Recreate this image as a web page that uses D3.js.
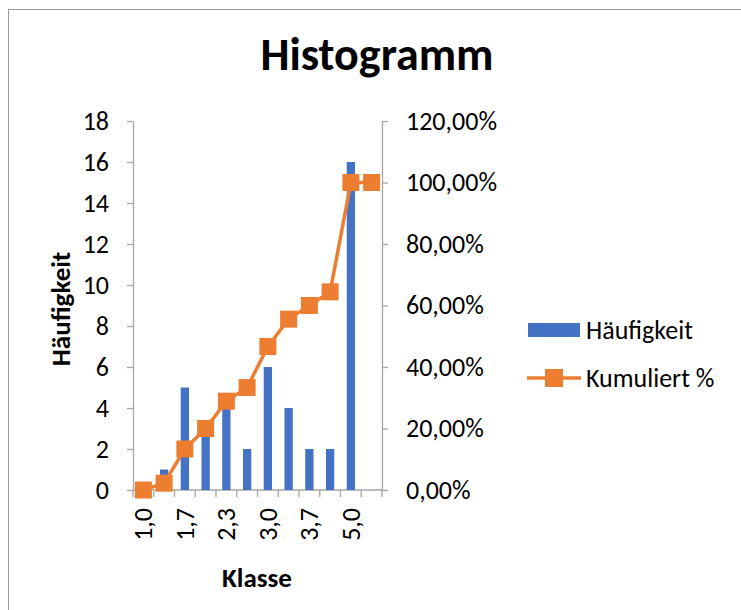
<!DOCTYPE html>
<html>
<head>
<meta charset="utf-8">
<script src="https://cdn.jsdelivr.net/npm/d3@7/dist/d3.min.js"></script>
<style>
    body { margin: 0; background: #fff; }
    svg text { font-family: Carlito, Calibri, Lato, sans-serif; fill: #000; }
</style>
</head>
<body>
<svg id="chart" width="741" height="610"></svg>
<script>
// Werte aus der Histogramm-Tabelle
var klassen = ['1,0', '1,3', '1,7', '2,0', '2,3', '2,7', '3,0', '3,3', '3,7', '4,0', '5,0', 'Weitere'];
var haeufigkeit = [0, 1, 5, 3, 4, 2, 6, 4, 2, 2, 16, 0];
var kumuliert = [0, 2.22, 13.33, 20, 28.89, 33.33, 46.67, 55.56, 60, 64.44, 100, 100];

var linkeTicks = [0, 2, 4, 6, 8, 10, 12, 14, 16, 18];
var rechteTicks = [0, 20, 40, 60, 80, 100, 120];

var blau = '#4472C4';
var orange = '#ED7D31';
var grau = '#A6A6A6';

var svg = d3.select('#chart');

// Rahmen des Diagramms
svg.append('rect')
    .attr('x', 8.5).attr('y', 9.5)
    .attr('width', 800).attr('height', 700)
    .attr('fill', '#fff')
    .attr('stroke', '#9a9a9a');

var plot = { left: 133, right: 382, top: 121, bottom: 490 };

var x = d3.scaleBand()
    .domain(klassen)
    .range([plot.left, plot.right]);

var y = d3.scaleLinear()
    .domain([0, 18])
    .range([plot.bottom, plot.top]);

var yPct = d3.scaleLinear()
    .domain([0, 120])
    .range([plot.bottom, plot.top]);

svg.append('text')
    .attr('x', 377).attr('y', 70)
    .attr('text-anchor', 'middle')
    .style('font-size', '46px')
    .style('font-weight', 'bold')
    .text('Histogramm');

function styleAxis(g) {
    g.select('.domain').attr('stroke', grau).attr('stroke-width', 1.3);
    g.selectAll('.tick line').attr('stroke', grau).attr('stroke-width', 1.3);
    g.selectAll('.tick text').style('font-size', '26px').attr('fill', '#000');
}

var linkeAchse = svg.append('g')
    .attr('transform', 'translate(' + plot.left + ',0)')
    .call(d3.axisLeft(y).tickValues(linkeTicks).tickSize(6).tickPadding(18).tickSizeOuter(0));
styleAxis(linkeAchse);

var rechteAchse = svg.append('g')
    .attr('transform', 'translate(' + plot.right + ',0)')
    .call(d3.axisRight(yPct).tickValues(rechteTicks).tickSize(6).tickPadding(18).tickSizeOuter(0)
        .tickFormat(function (d) { return d3.format('.2f')(d).replace('.', ',') + '%'; }));
styleAxis(rechteAchse);

// x-Achse: Ticks an den Klassengrenzen, nur jede zweite Beschriftung
var xAchse = svg.append('g')
    .attr('transform', 'translate(0,' + plot.bottom + ')');

xAchse.append('line')
    .attr('x1', plot.left).attr('x2', plot.right)
    .attr('stroke', grau).attr('stroke-width', 1.3);

var grenzen = klassen.map(function (k) { return x(k); }).concat([plot.right]);

xAchse.selectAll('line.grenze')
    .data(grenzen)
    .enter().append('line')
    .attr('class', 'grenze')
    .attr('x1', function (d) { return d; })
    .attr('x2', function (d) { return d; })
    .attr('y1', 0).attr('y2', 7)
    .attr('stroke', grau).attr('stroke-width', 1.3);

xAchse.selectAll('text')
    .data(klassen.filter(function (k, i) { return i % 2 === 0; }))
    .enter().append('text')
    .attr('transform', function (d) {
        return 'translate(' + (x(d) + x.bandwidth() / 2) + ',18) rotate(-90)';
    })
    .attr('dy', '0.35em')
    .attr('text-anchor', 'end')
    .style('font-size', '26px')
    .text(function (d) { return d; });

// Säulen
var balkenBreite = x.bandwidth() / 2.5;

svg.append('g').selectAll('rect')
    .data(haeufigkeit)
    .enter().append('rect')
    .attr('x', function (d, i) { return x(klassen[i]) + (x.bandwidth() - balkenBreite) / 2; })
    .attr('y', function (d) { return y(d); })
    .attr('width', balkenBreite)
    .attr('height', function (d) { return plot.bottom - y(d); })
    .attr('fill', blau);

// kumulierte Linie
var linie = d3.line()
    .x(function (d, i) { return x(klassen[i]) + x.bandwidth() / 2; })
    .y(function (d) { return yPct(d); });

svg.append('path')
    .datum(kumuliert)
    .attr('d', linie)
    .attr('fill', 'none')
    .attr('stroke', orange)
    .attr('stroke-width', 3.5)
    .attr('stroke-linejoin', 'round');

var m = 17;
svg.append('g').selectAll('rect')
    .data(kumuliert)
    .enter().append('rect')
    .attr('x', function (d, i) { return x(klassen[i]) + x.bandwidth() / 2 - m / 2; })
    .attr('y', function (d) { return yPct(d) - m / 2; })
    .attr('width', m).attr('height', m)
    .attr('fill', orange);

// Achsentitel
svg.append('text')
    .attr('transform', 'translate(70,309) rotate(-90)')
    .attr('text-anchor', 'middle')
    .style('font-size', '27px')
    .style('font-weight', 'bold')
    .text('Häufigkeit');

svg.append('text')
    .attr('x', 257).attr('y', 587)
    .attr('text-anchor', 'middle')
    .style('font-size', '27px')
    .style('font-weight', 'bold')
    .text('Klasse');

// Legende
var legende = svg.append('g');

legende.append('rect')
    .attr('x', 528).attr('y', 323)
    .attr('width', 52).attr('height', 14)
    .attr('fill', blau);

legende.append('text')
    .attr('x', 586).attr('y', 330)
    .attr('dy', '0.35em')
    .style('font-size', '26px')
    .text('Häufigkeit');

legende.append('line')
    .attr('x1', 527).attr('x2', 581)
    .attr('y1', 378).attr('y2', 378)
    .attr('stroke', orange).attr('stroke-width', 3.5);

legende.append('rect')
    .attr('x', 554 - 9).attr('y', 378 - 9)
    .attr('width', 18).attr('height', 18)
    .attr('fill', orange);

legende.append('text')
    .attr('x', 586).attr('y', 378)
    .attr('dy', '0.35em')
    .style('font-size', '26px')
    .text('Kumuliert %');
</script>
</body>
</html>
